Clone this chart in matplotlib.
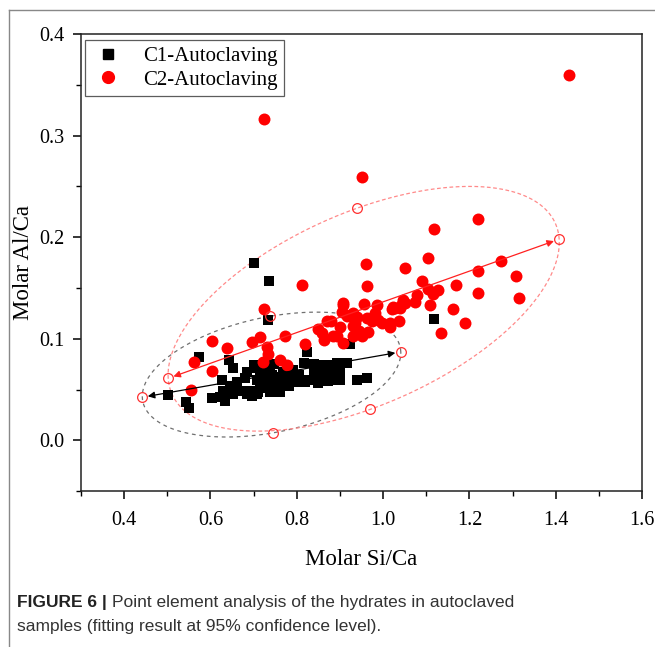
import numpy as np
import matplotlib
matplotlib.use('Agg')
import matplotlib.pyplot as plt
from matplotlib.ticker import MultipleLocator
from matplotlib.lines import Line2D

# C1 data (black squares)
c1_x = [0.700, 0.735, 0.733, 1.119, 0.573, 0.642, 0.652, 0.501, 0.544, 0.551,
        0.604, 0.626, 0.646, 0.661, 0.680, 0.684, 0.700, 0.708, 0.715, 0.719,
        0.622, 0.653, 0.669, 0.696, 0.731, 0.734, 0.701, 0.715, 0.748, 0.816,
        0.839, 0.823, 0.785, 0.804, 0.847, 0.870, 0.762, 0.742, 0.734, 0.754,
        0.777, 0.796, 0.819, 0.850, 0.872, 0.630, 0.692, 0.711, 0.762, 0.781,
        0.634, 0.684, 0.708, 0.854, 0.873, 0.893, 0.916, 0.901, 0.877, 0.858,
        0.839, 0.792, 0.769, 0.738, 0.727, 0.773, 0.800, 0.827, 0.854, 0.881,
        0.901, 0.939, 0.962, 0.762, 0.738, 0.924]
c1_y = [0.175, 0.157, 0.118, 0.119, 0.082, 0.079, 0.071, 0.045, 0.038, 0.032,
        0.042, 0.059, 0.053, 0.057, 0.061, 0.067, 0.071, 0.059, 0.051, 0.062,
        0.043, 0.046, 0.049, 0.044, 0.054, 0.071, 0.074, 0.069, 0.075, 0.076,
        0.075, 0.087, 0.067, 0.064, 0.066, 0.067, 0.062, 0.064, 0.057, 0.056,
        0.054, 0.057, 0.057, 0.056, 0.058, 0.049, 0.049, 0.048, 0.051, 0.053,
        0.039, 0.046, 0.046, 0.074, 0.074, 0.076, 0.076, 0.067, 0.066, 0.064,
        0.069, 0.069, 0.067, 0.066, 0.051, 0.059, 0.059, 0.059, 0.059, 0.059,
        0.059, 0.059, 0.061, 0.048, 0.048, 0.095]

# C2 data (red circles)
c2_x = [0.723, 1.431, 0.950, 0.813, 0.960, 0.962, 0.907, 0.955, 0.724, 1.220,
        1.119, 1.103, 1.273, 1.050, 1.220, 1.309, 1.090, 1.169, 1.103, 1.115,
        1.127, 1.078, 1.074, 1.047, 1.044, 1.028, 1.020, 1.219, 1.314, 1.108,
        1.163, 1.036, 1.190, 1.135, 0.986, 0.982, 0.974, 0.997, 1.015, 0.904,
        0.879, 0.924, 0.939, 0.850, 0.858, 0.862, 0.901, 0.931, 0.943, 0.966,
        0.893, 0.908, 0.931, 0.819, 0.604, 0.638, 0.561, 0.603, 0.555, 0.696,
        0.715, 0.731, 0.734, 0.721, 0.762, 0.777, 0.773, 0.870, 0.908, 0.916,
        0.935, 0.951, 0.885, 0.989, 0.962, 0.931, 1.016, 1.040, 1.051, 1.024]
c2_y = [0.316, 0.360, 0.259, 0.153, 0.174, 0.152, 0.135, 0.134, 0.129, 0.218,
        0.208, 0.179, 0.177, 0.170, 0.167, 0.162, 0.157, 0.153, 0.149, 0.144,
        0.148, 0.143, 0.136, 0.138, 0.134, 0.130, 0.129, 0.145, 0.140, 0.133,
        0.129, 0.117, 0.115, 0.106, 0.133, 0.125, 0.117, 0.115, 0.112, 0.126,
        0.117, 0.123, 0.121, 0.110, 0.106, 0.099, 0.112, 0.113, 0.108, 0.107,
        0.103, 0.096, 0.103, 0.095, 0.0975, 0.091, 0.077, 0.068, 0.050, 0.097,
        0.102, 0.092, 0.085, 0.077, 0.079, 0.074, 0.103, 0.117, 0.133, 0.122,
        0.115, 0.103, 0.103, 0.118, 0.120, 0.125, 0.115, 0.130, 0.135, 0.131]

# 95% confidence ellipses: ends of the two axes (x pair, y pair)
c1_major = ([0.442, 1.041], [0.0424, 0.087])
c1_minor = ([0.737, 0.746], [0.122, 0.0074])
c2_major = ([0.502, 1.408], [0.061, 0.198])
c2_minor = ([0.940, 0.970], [0.2286, 0.0305])

plt.rcParams['font.family'] = ['Liberation Serif', 'DejaVu Serif']

fig = plt.figure(figsize=(6.55, 6.47), dpi=100)
ax = fig.add_axes([0.1237, 0.241, 0.8565, 0.7064])


def draw_ellipse(major, minor, color, ls):
    cx = (major[0][0] + major[0][1]) / 2
    cy = (major[1][0] + major[1][1]) / 2
    ax_, ay_ = major[0][1] - cx, major[1][1] - cy
    bx_, by_ = minor[0][0] - cx, minor[1][0] - cy
    t = np.linspace(0, 2 * np.pi, 400)
    ax.plot(cx + ax_ * np.cos(t) + bx_ * np.sin(t),
            cy + ay_ * np.cos(t) + by_ * np.sin(t),
            color=color, lw=0.9, ls=ls, zorder=1)


draw_ellipse(c1_major, c1_minor, '#707070', (0, (3, 3)))
draw_ellipse(c2_major, c2_minor, '#ff8a8a', (0, (3, 2)))

ax.scatter(c1_x, c1_y, marker='s', s=58, color='black', lw=0, zorder=3)
ax.scatter(c2_x, c2_y, marker='o', s=74, color='#ff0000', lw=0, zorder=3)

# arrows along major axes
for major, col in [(c1_major, 'black'), (c2_major, '#ff2020')]:
    ax.annotate('', xy=(major[0][1], major[1][1]), xytext=(major[0][0], major[1][0]),
                arrowprops=dict(arrowstyle='<|-|>', color=col, lw=0.9,
                                shrinkA=4, shrinkB=4, mutation_scale=10),
                zorder=4)

# hollow circles at ellipse axis ends
for pts in [c1_major, c1_minor, c2_major, c2_minor]:
    ax.plot(pts[0], pts[1], ls='none', marker='o', ms=7, mfc='none',
            mec='#ff3030', mew=0.9, zorder=5)

ax.set_xlim(0.3, 1.6)
ax.set_ylim(-0.05, 0.4)
ax.xaxis.set_minor_locator(MultipleLocator(0.1))
ax.yaxis.set_minor_locator(MultipleLocator(0.05))
ax.set_xticks([0.4, 0.6, 0.8, 1.0, 1.2, 1.4, 1.6])
ax.set_xticklabels(['0.4', '0.6', '0.8', '1.0', '1.2', '1.4', '1.6'])
ax.set_yticks([0.0, 0.1, 0.2, 0.3, 0.4])
ax.set_yticklabels(['0.0', '0.1', '0.2', '0.3', '0.4'])
ax.tick_params(which='major', direction='out', length=6, width=1.1, labelsize=14.5)
ax.tick_params(axis='x', which='major', pad=8)
ax.tick_params(axis='y', which='major', pad=6)
ax.tick_params(which='minor', direction='out', length=3.5, width=1.0)
for sp in ax.spines.values():
    sp.set_linewidth(1.1)
    sp.set_color('#222222')

ax.set_xlabel('Molar Si/Ca', fontsize=16.5, labelpad=14)
ax.set_ylabel('Molar Al/Ca', fontsize=16.5, labelpad=4)

handles = [Line2D([], [], ls='none', marker='s', ms=7.5, color='black'),
           Line2D([], [], ls='none', marker='o', ms=8.5, color='#ff0000')]
leg = ax.legend(handles, ['C1-Autoclaving', 'C2-Autoclaving'], loc='upper left',
                bbox_to_anchor=(0.007, 0.987), borderaxespad=0, fontsize=15,
                frameon=True, fancybox=False, edgecolor='#333333',
                handlelength=1.6, handletextpad=0.9, labelspacing=0.2,
                borderpad=0.3)
leg.get_frame().set_linewidth(0.9)

# page frame lines
fig.add_artist(Line2D([9 / 655, 1], [1 - 10 / 647, 1 - 10 / 647], color='#888888', lw=1))
fig.add_artist(Line2D([9 / 655, 9 / 655], [0, 1 - 10 / 647], color='#888888', lw=1))

# caption
cap_font = ['Liberation Sans', 'DejaVu Sans']
t1 = fig.text(17 / 655, 1 - 603 / 647, 'FIGURE 6 | ', fontsize=12.5, fontweight='bold',
              family=cap_font, va='center', color='#222222')
fig.canvas.draw()
bb = t1.get_window_extent()
fig.text(bb.x1 / fig.bbox.width, 1 - 603 / 647,
         'Point element analysis of the hydrates in autoclaved',
         fontsize=12.5, family=cap_font, va='center', color='#333333')
fig.text(17 / 655, 1 - 626 / 647,
         'samples (fitting result at 95% confidence level).',
         fontsize=12.5, family=cap_font, va='center', color='#333333')

fig.savefig('out.png', dpi=100)
